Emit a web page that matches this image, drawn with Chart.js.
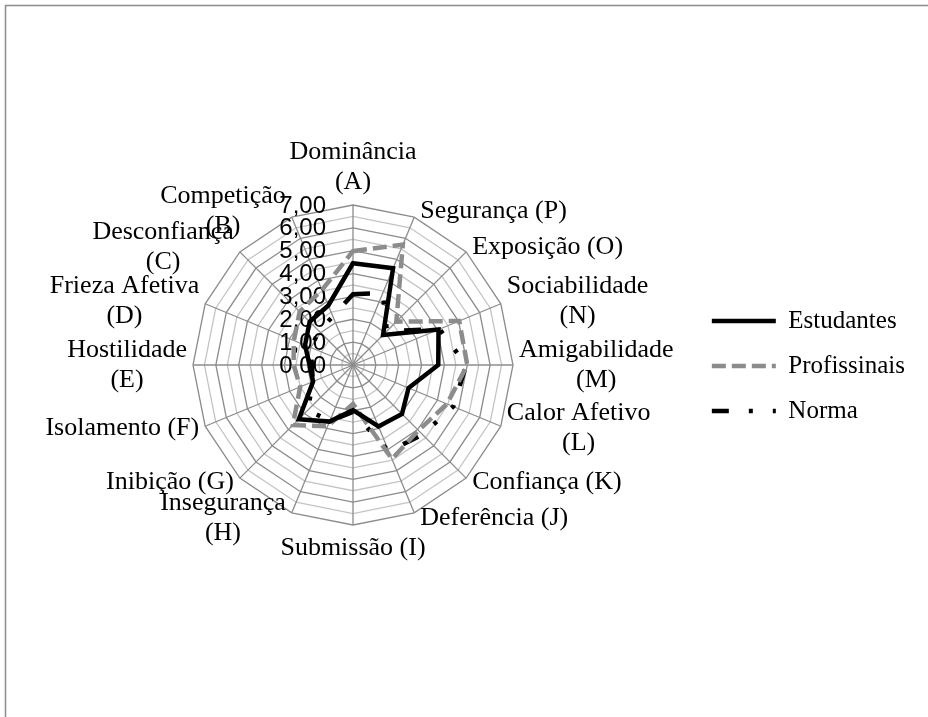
<!DOCTYPE html>
<html>
<head>
<meta charset="utf-8">
<script src="https://cdn.jsdelivr.net/npm/chart.js@4.4.0/dist/chart.umd.min.js"></script>
<style>
  body { margin: 0; background: #fff; }
  #wrap { width: 928px; height: 717px; }
</style>
</head>
<body>
<div id="wrap"><canvas id="myChart" width="928" height="717"></canvas></div>
<script>
// categories clockwise from the top, split in lines as in the original
var categories = [
    ['Dominância', '(A)'], ['Segurança (P)'], ['Exposição (O)'], ['Sociabilidade', '(N)'],
    ['Amigabilidade', '(M)'], ['Calor Afetivo', '(L)'], ['Confiança (K)'], ['Deferência (J)'],
    ['Submissão (I)'], ['Insegurança', '(H)'], ['Inibição (G)'], ['Isolamento (F)'],
    ['Hostilidade', '(E)'], ['Frieza Afetiva', '(D)'], ['Desconfiança', '(C)'], ['Competição', '(B)']
];

var estudantes = [4.45, 4.58, 1.86, 4.05, 3.73, 2.63, 3.03, 2.91, 1.97, 2.68, 3.35, 1.89, 1.90, 2.27, 2.68, 2.82];
var profissinais = [4.98, 5.70, 2.68, 5.03, 5.00, 4.45, 4.05, 4.45, 1.70, 2.90, 3.72, 2.50, 2.60, 2.80, 3.30, 3.55];
var norma = [3.10, 3.40, 2.10, 4.10, 4.95, 4.75, 4.30, 4.10, 2.05, 2.65, 2.80, 1.90, 1.80, 2.00, 2.10, 2.30];

var tickValues = [0, 1, 2, 3, 4, 5, 6, 7];
var tickLabels = ['0,00', '1,00', '2,00', '3,00', '4,00', '5,00', '6,00', '7,00'];

// frame, value labels and category labels (excel style)
var radarText = {
    id: 'radarText',
    beforeDraw: function(chart) {
        var ctx = chart.ctx;
        ctx.save();
        ctx.strokeStyle = '#8c8c8c';
        ctx.lineWidth = 1.5;
        ctx.strokeRect(5.5, 5.5, 960, 760);
        ctx.restore();
    },
    beforeDatasetsDraw: function(chart) {
        var r = chart.scales.r;
        var ctx = chart.ctx;
        ctx.save();
        ctx.fillStyle = '#000';
        ctx.textBaseline = 'middle';

        ctx.font = '24px "Liberation Sans"';
        ctx.textAlign = 'right';
        for (var i = 0; i < tickLabels.length; i++) {
            ctx.fillText(tickLabels[i], r.xCenter - 27, r.yCenter - r.getDistanceFromCenterForValue(tickValues[i]) + 1);
        }

        ctx.font = '26px "Liberation Serif"';
        ctx.textAlign = 'center';
        var lh = 30, pad = 6;
        categories.forEach(function(lines, i) {
            var p = r.getPointPosition(i, r.drawingArea);
            var ang = i * 360 / categories.length;
            var w = Math.max.apply(null, lines.map(function(s) { return ctx.measureText(s).width; }));
            var h = lines.length * lh;
            var cx, top;
            if (ang === 0) {
                cx = p.x; top = p.y - 8 - h;
            } else if (ang === 180) {
                cx = p.x; top = p.y + 8;
            } else {
                cx = ang < 180 ? p.x + pad + w / 2 : p.x - pad - w / 2;
                top = p.y - h / 2 - 6 * Math.cos(ang * Math.PI / 180);
            }
            lines.forEach(function(s, k) {
                ctx.fillText(s, cx, top + lh * k + lh / 2);
            });
        });
        ctx.restore();
    }
};

var ctx = document.getElementById('myChart').getContext('2d');
var myChart = new Chart(ctx, {
    type: 'radar',
    data: {
        labels: categories,
        datasets: [{
            label: 'Estudantes',
            data: estudantes,
            borderColor: '#000000',
            backgroundColor: 'transparent',
            borderWidth: 4.5,
            borderJoinStyle: 'miter',
            pointRadius: 0,
            fill: false
        }, {
            label: 'Profissinais',
            data: profissinais,
            borderColor: '#8c8c8c',
            backgroundColor: 'transparent',
            borderWidth: 4.5,
            borderDash: [14, 6],
            borderJoinStyle: 'miter',
            pointRadius: 0,
            fill: false
        }, {
            label: 'Norma',
            data: norma,
            borderColor: '#000000',
            backgroundColor: 'transparent',
            borderWidth: 4.5,
            borderDash: [17, 20, 4, 20, 4, 20],
            borderJoinStyle: 'miter',
            pointRadius: 0,
            fill: false
        }]
    },
    options: {
        responsive: false,
        animation: false,
        devicePixelRatio: 1,
        layout: { padding: { top: 15, right: 13, bottom: 0, left: 0 } },
        elements: { line: { tension: 0 } },
        scales: {
            r: {
                min: 0,
                max: 7,
                ticks: { display: false, stepSize: 0.5 },
                pointLabels: { display: false },
                grid: {
                    color: function(c) { return c.tick && c.tick.value % 1 === 0 ? '#8c8c8c' : '#c4c4c4'; },
                    lineWidth: 1.3
                },
                angleLines: { color: '#8c8c8c', lineWidth: 1.3 },
                afterFit: function(scale) {
                    scale.xCenter = 353;
                    scale.yCenter = 365;
                    scale.drawingArea = 160;
                }
            }
        },
        plugins: {
            tooltip: { enabled: false },
            legend: {
                position: 'right',
                align: 'center',
                labels: {
                    usePointStyle: true,
                    pointStyle: 'line',
                    pointStyleWidth: 64,
                    padding: 20,
                    color: '#000',
                    font: { family: 'Liberation Serif', size: 25 },
                    generateLabels: function(chart) {
                        var items = Chart.defaults.plugins.legend.labels.generateLabels(chart);
                        items.forEach(function(it, i) {
                            var ds = chart.data.datasets[i];
                            it.lineDash = ds.borderDash || [];
                            it.lineWidth = ds.borderWidth;
                            it.strokeStyle = ds.borderColor;
                            it.pointStyle = 'line';
                        });
                        return items;
                    }
                }
            }
        }
    },
    plugins: [radarText]
});
</script>
</body>
</html>
